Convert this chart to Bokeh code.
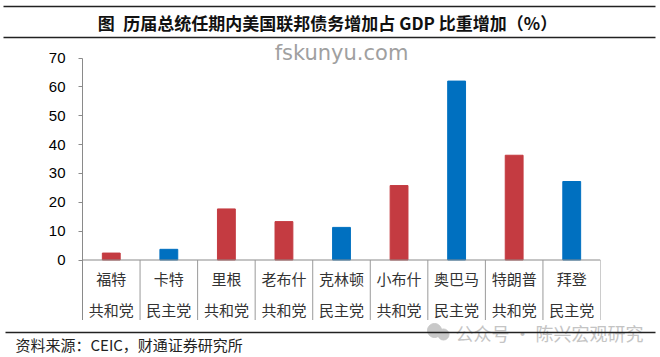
from bokeh.plotting import figure
from bokeh.models import Range1d, FixedTicker, ColumnDataSource
from bokeh.embed import file_html
from bokeh.resources import INLINE
from bokeh.core.properties import value

# ---------------- data ----------------
presidents = ["福特", "卡特", "里根", "老布什", "克林顿", "小布什", "奥巴马", "特朗普", "拜登"]
parties = ["共和党", "民主党", "共和党", "共和党", "民主党", "共和党", "民主党", "共和党", "民主党"]
debt_gdp_increase = [2.4, 3.7, 17.7, 13.3, 11.3, 25.8, 62.0, 36.3, 27.2]
y_ticks = [0, 10, 20, 30, 40, 50, 60, 70]
party_colors = {"共和党": "#C43B41", "民主党": "#0070C0"}

title_text = "图\u2002历届总统任期内美国联邦债务增加占 GDP 比重增加（%）"
source_text = "资料来源：CEIC，财通证券研究所"
watermark_top = "fskunyu.com"
watermark_bottom = "公众号 · 陈兴宏观研究"

# ---------------- layout constants ----------------
W = 660
CJK = "Noto Sans CJK SC"
LAT = "Liberation Sans"
TOP_H = 40          # header strip height
MAIN_H = 280        # main chart strip height
BOT_H = 37          # footer strip height
ZERO_PX = 219.5     # pixel of y=0 inside main strip
PX_PER_UNIT = 202.0 / 70.0
Y_MAX_TICK = 70

y_start = -(MAIN_H - ZERO_PX) / PX_PER_UNIT
y_end = ZERO_PX / PX_PER_UNIT


def px_to_y(px):
    return (ZERO_PX - px) / PX_PER_UNIT


def strip(h):
    f = figure(width=W, height=h, x_range=Range1d(0, W), y_range=Range1d(h, 0),
               output_backend="svg", toolbar_location=None,
               x_axis_location=None, y_axis_location=None,
               min_border=0)
    f.outline_line_color = None
    f.grid.visible = False
    f.background_fill_color = "white"
    f.border_fill_color = "white"
    return f


# ---------------- header ----------------
top = strip(TOP_H)
top.segment(x0=[3, 3], y0=[6, 37], x1=[655, 655], y1=[6, 37],
            line_color="#222222", line_width=1.5)
top.text(x=[327], y=[22], text=[title_text], text_font=value(CJK),
         text_font_size="17px", text_font_style="bold", text_align="center",
         text_baseline="middle", text_color="#111111")

# ---------------- main chart ----------------
n = len(presidents)
x_centers = [i + 0.5 for i in range(n)]
colors = [party_colors[p] for p in parties]
src = ColumnDataSource(dict(x=x_centers, top=debt_gdp_increase, color=colors,
                            name=presidents, party=parties))

main = figure(width=W, height=MAIN_H, x_range=Range1d(0, n),
              y_range=Range1d(y_start, y_end),
              output_backend="svg", toolbar_location=None,
              x_axis_location=None,
              min_border_left=82, min_border_right=60,
              min_border_top=0, min_border_bottom=0)
main.outline_line_color = None
main.grid.visible = False
main.background_fill_color = "white"
main.border_fill_color = "white"

main.vbar(x="x", top="top", bottom=0, width=0.31, color="color", source=src)

# x axis line and category separators
main.segment(x0=[0], y0=[0], x1=[n], y1=[0], line_color="#8a8a8a", line_width=1)
sep_x = list(range(1, n + 1))
main.segment(x0=sep_x, y0=[0] * n, x1=sep_x, y1=[y_start] * n,
             line_color="#9a9a9a", line_width=1)

# category labels
main.text(x="x", y=px_to_y(238.0), text="name", source=src, text_font=value(CJK),
          text_font_size="15px", text_align="center", text_baseline="middle",
          text_color="#333333")
main.text(x="x", y=px_to_y(268.5), text="party", source=src, text_font=value(CJK),
          text_font_size="15px", text_align="center", text_baseline="middle",
          text_color="#333333")

# watermark
main.text(x=[n / 2], y=[px_to_y(12)], text=[watermark_top], text_font=value("DejaVu Sans"),
          text_font_size="21px", text_align="center", text_baseline="middle",
          text_color="#a0a0a0")

ax = main.yaxis[0]
ax.ticker = FixedTicker(ticks=y_ticks)
ax.bounds = (y_start, Y_MAX_TICK)
ax.axis_line_color = "#8a8a8a"
ax.major_tick_line_color = "#8a8a8a"
ax.major_tick_out = 4
ax.major_tick_in = 0
ax.minor_tick_line_color = None
ax.major_label_text_font = LAT
ax.major_label_text_font_size = "15px"
ax.major_label_text_color = "#000000"
ax.major_label_standoff = 13

# ---------------- footer ----------------
bot = strip(BOT_H)
bot.scatter(x=[434, 443], y=[10, 14], size=[14, 11], color="#c8c8c8")
bot.text(x=[455], y=[12], text=[watermark_bottom], text_font=value(CJK),
         text_font_size="18px", text_align="left", text_baseline="middle",
         text_color="#c4c4c4")
bot.segment(x0=[5], y0=[12], x1=[655], y1=[12], line_color="#222222", line_width=1.5)
bot.text(x=[15], y=[24], text=[source_text], text_font=value(CJK),
         text_font_size="15px", text_align="left", text_baseline="middle",
         text_color="#222222")

p = [top, main, bot]
open("out.html", "w").write(file_html(p, INLINE))
